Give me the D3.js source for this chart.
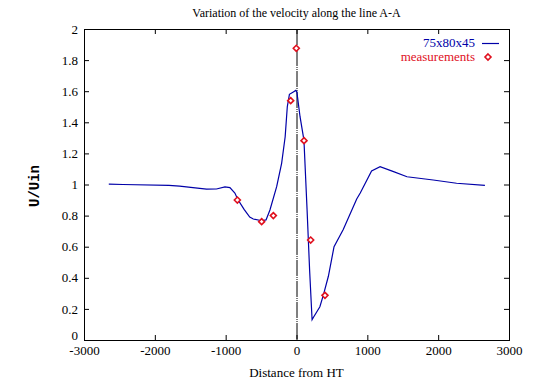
<!DOCTYPE html>
<html><head><meta charset="utf-8">
<script src="https://cdn.jsdelivr.net/npm/d3@7"></script>
<style>body{margin:0;background:#fff}svg{display:block}svg text{font-family:"Liberation Serif",serif}</style>
</head><body>
<svg id="c" width="559" height="392"></svg>
<script>
const title = "Variation of the velocity along the line A-A";
const xLabel = "Distance from HT";
const yLabel = "U/Uin";
const seriesNames = ["75x80x45", "measurements"];
const xTicks = [-3000, -2000, -1000, 0, 1000, 2000, 3000];
const yTicks = [0, 0.2, 0.4, 0.6, 0.8, 1, 1.2, 1.4, 1.6, 1.8, 2];
const simX = [-2650,-2450,-1800,-1650,-1430,-1270,-1130,-1010,-940,-870,-830,-740,-660,-610,-490,-430,-375,-280,-210,-160,-130,-100,-45,-10,5,50,105,150,185,220,240,330,380,450,530,660,850,900,1060,1180,1370,1560,1930,2260,2660];
const simY = [1.003,1.0,0.995,0.99,0.978,0.97,0.971,0.985,0.98,0.945,0.905,0.84,0.79,0.778,0.767,0.772,0.836,0.986,1.136,1.307,1.5,1.58,1.595,1.605,1.596,1.436,1.286,0.83,0.45,0.13,0.146,0.214,0.29,0.41,0.6,0.71,0.907,0.945,1.087,1.115,1.083,1.05,1.029,1.008,0.995];
const measX = [-835,-492,-327,-82,-3,106,200,402];
const measY = [0.90,0.761,0.80,1.539,1.876,1.282,0.643,0.287];

const svg = d3.select("#c");
const m = {l:84, r:50, t:29, b:52};
const W = 559, H = 392;
const x = d3.scaleLinear().domain([-3000,3000]).range([m.l, W-m.r]);
const y = d3.scaleLinear().domain([0,2]).range([H-m.b, m.t]);
const font = "Liberation Serif";
const blue = "#0000a8", red = "#e0101e";

const tl = 5;
const gB = svg.append("g").attr("transform",`translate(0,${y(0)})`)
  .call(d3.axisBottom(x).tickValues(xTicks).tickSize(-tl).tickPadding(6).tickFormat(d=>String(d)));
const gT = svg.append("g").attr("transform",`translate(0,${y(2)})`)
  .call(d3.axisTop(x).tickValues(xTicks).tickSize(-tl).tickFormat(""));
const gL = svg.append("g").attr("transform",`translate(${x(-3000)},0)`)
  .call(d3.axisLeft(y).tickValues(yTicks).tickSize(-tl).tickPadding(6).tickFormat(d=>String(d)));
const gR = svg.append("g").attr("transform",`translate(${x(3000)},0)`)
  .call(d3.axisRight(y).tickValues(yTicks).tickSize(-tl).tickFormat(""));
[gB,gT,gL,gR].forEach(g=>{
  g.attr("font-family",font).attr("font-size",13);
  g.select(".domain").remove();
  g.selectAll(".tick line").attr("stroke","#000");
  g.selectAll("text").attr("fill","#000");
});
gB.selectAll(".tick text").attr("dy","0.71em");
gL.selectAll(".tick text").filter(d=>d===0).attr("dy","-0.05em");

svg.append("rect").attr("x",x(-3000)+0.5).attr("y",y(2)+0.5)
  .attr("width",x(3000)-x(-3000)).attr("height",y(0)-y(2))
  .attr("fill","none").attr("stroke","#000");

// zero axis
svg.append("line").attr("x1",x(0)+0.5).attr("x2",x(0)+0.5).attr("y1",y(2)).attr("y2",y(0))
  .attr("stroke","#000").attr("stroke-dasharray","16,1,1,1,1,1");

const sim = simX.map((v,i)=>[v,simY[i]]);
svg.append("path").datum(sim)
  .attr("d", d3.line().x(d=>x(d[0])).y(d=>y(d[1])))
  .attr("fill","none").attr("stroke",blue).attr("stroke-width",1.2);

const diamond = (cx,cy,s)=>`M${cx},${cy-s}L${cx+s},${cy}L${cx},${cy+s}L${cx-s},${cy}Z`;
svg.append("g").selectAll("path").data(measX.map((v,i)=>[v,measY[i]])).join("path")
  .attr("d",d=>diamond(x(d[0]),y(d[1]),3))
  .attr("fill","#fff").attr("stroke",red).attr("stroke-width",1.6);

svg.append("text").attr("x",(x(-3000)+x(3000))/2).attr("y",17).attr("text-anchor","middle")
  .attr("font-family",font).attr("font-size",12).text(title);
svg.append("text").attr("x",(x(-3000)+x(3000))/2).attr("y",377).attr("text-anchor","middle")
  .attr("font-family",font).attr("font-size",13).text(xLabel);
svg.append("text").attr("transform",`translate(39,186) rotate(-90)`).attr("text-anchor","middle")
  .style("font-family","'Liberation Mono',monospace").attr("font-size",14).attr("font-weight","bold").text(yLabel);

svg.append("text").attr("x",475).attr("y",47).attr("text-anchor","end")
  .attr("font-family",font).attr("font-size",13).attr("fill",blue).text(seriesNames[0]);
svg.append("line").attr("x1",482).attr("x2",499).attr("y1",43.5).attr("y2",43.5)
  .attr("stroke",blue).attr("stroke-width",1.2);
svg.append("text").attr("x",475).attr("y",61).attr("text-anchor","end")
  .attr("font-family",font).attr("font-size",13).attr("fill",red).text(seriesNames[1]);
svg.append("path").attr("d",diamond(488,57,3)).attr("fill","#fff").attr("stroke",red).attr("stroke-width",1.6);
</script>
</body></html>
